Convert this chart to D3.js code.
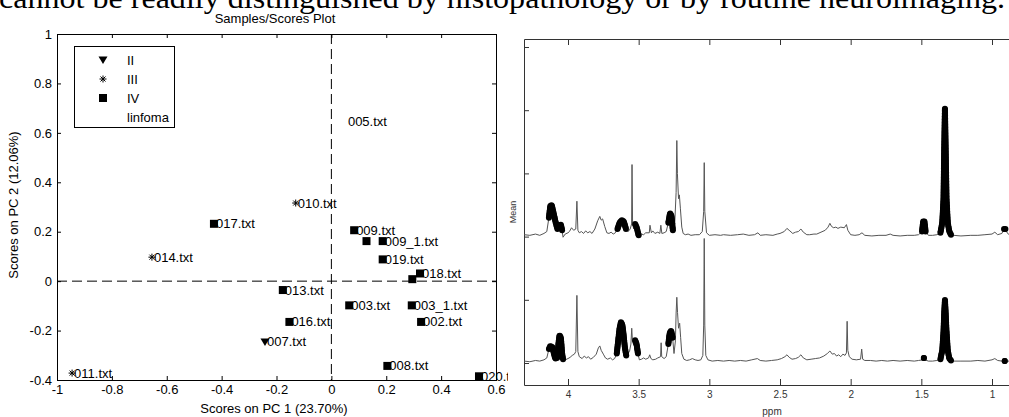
<!DOCTYPE html>
<html><head><meta charset="utf-8">
<script src="https://cdn.jsdelivr.net/npm/d3@7"></script>
<style>
html,body{margin:0;padding:0;background:#fff;overflow:hidden}
svg{display:block}
</style></head>
<body>
<svg id="c" width="1009" height="417"></svg>
<script>
// ---------- data: left scores plot ----------
const sampleLabels = ["005.txt","010.txt","017.txt","014.txt","011.txt","009.txt","","009_1.txt","019.txt","018.txt","","013.txt","003.txt","003_1.txt","002.txt","016.txt","007.txt","008.txt","020.txt"];
const pc1Scores = [0.053,-0.130,-0.428,-0.654,-0.945,0.083,0.128,0.187,0.187,0.323,0.295,-0.177,0.065,0.293,0.327,-0.153,-0.242,0.204,0.538];
const pc2Scores = [0.645,0.316,0.232,0.097,-0.372,0.206,0.162,0.162,0.088,0.031,0.008,-0.036,-0.098,-0.098,-0.165,-0.165,-0.246,-0.343,-0.385];
const sampleGroups = ["linfoma","III","IV","III","III","IV","IV","IV","IV","IV","IV","IV","IV","IV","IV","IV","II","IV","IV"];
const legendGroups = ["II","III","IV","linfoma"];
const xTickValues = [-1,-0.8,-0.6,-0.4,-0.2,0,0.2,0.4,0.6];
const xTickLabels = ["-1","-0.8","-0.6","-0.4","-0.2","0","0.2","0.4","0.6"];
const yTickValues = [-0.4,-0.2,0,0.2,0.4,0.6,0.8,1];
const yTickLabels = ["-0.4","-0.2","0","0.2","0.4","0.6","0.8","1"];

// ---------- data: right spectra (ppm, intensity) ----------
const ppmTickValues = [4,3.5,3,2.5,2,1.5,1];
const ppmTickLabels = ["4","3.5","3","2.5","2","1.5","1"];
const meanTickValues = [0,1,2,3,4,5];
const topSpectrum = [[4.31,2.03],[4.27,2.02],[4.23,2.04],[4.20,2.02],[4.17,2.05],[4.15,2.08],[4.135,2.30],[4.125,2.49],[4.115,2.50],[4.105,2.40],[4.09,2.25],[4.075,2.12],[4.062,2.18],[4.05,2.19],[4.042,2.10],[4.035,1.99],[4.02,2.04],[4.00,2.06],[3.99,2.08],[3.975,2.14],[3.96,2.10],[3.945,2.12],[3.937,2.56],[3.930,2.10],[3.92,2.06],[3.905,2.08],[3.89,2.05],[3.875,2.09],[3.86,2.06],[3.845,2.08],[3.83,2.05],[3.81,2.12],[3.79,2.25],[3.775,2.32],[3.765,2.26],[3.755,2.28],[3.74,2.16],[3.725,2.06],[3.71,2.05],[3.695,2.07],[3.68,2.04],[3.665,2.06],[3.65,2.12],[3.635,2.22],[3.62,2.26],[3.605,2.24],[3.59,2.12],[3.575,2.08],[3.56,2.12],[3.55,2.20],[3.547,3.14],[3.543,2.20],[3.535,2.12],[3.525,2.20],[3.515,2.15],[3.50,2.02],[3.48,2.04],[3.465,2.03],[3.45,2.06],[3.425,2.06],[3.42,2.18],[3.41,2.06],[3.40,2.09],[3.385,2.05],[3.365,2.07],[3.35,2.05],[3.343,2.18],[3.336,2.05],[3.32,2.06],[3.305,2.08],[3.29,2.22],[3.278,2.37],[3.268,2.33],[3.258,2.10],[3.245,2.20],[3.235,2.70],[3.230,3.52],[3.226,3.00],[3.218,2.60],[3.212,2.66],[3.205,2.45],[3.195,2.15],[3.185,2.05],[3.17,2.03],[3.15,2.04],[3.13,2.02],[3.10,2.03],[3.07,2.03],[3.05,2.08],[3.040,2.40],[3.036,3.17],[3.032,2.40],[3.02,2.06],[3.00,2.02],[2.96,2.03],[2.92,2.02],[2.90,2.03],[2.85,2.02],[2.80,2.03],[2.76,2.04],[2.72,2.02],[2.68,2.03],[2.656,2.06],[2.64,2.02],[2.60,2.03],[2.55,2.02],[2.52,2.04],[2.50,2.05],[2.47,2.08],[2.451,2.13],[2.43,2.09],[2.41,2.05],[2.39,2.07],[2.37,2.08],[2.352,2.12],[2.335,2.07],[2.31,2.03],[2.29,2.03],[2.26,2.04],[2.24,2.04],[2.21,2.07],[2.18,2.10],[2.16,2.15],[2.147,2.21],[2.135,2.16],[2.12,2.14],[2.105,2.15],[2.09,2.13],[2.07,2.15],[2.045,2.14],[2.030,2.19],[2.02,2.10],[2.00,2.03],[1.97,2.02],[1.94,2.03],[1.92,2.06],[1.90,2.02],[1.85,2.01],[1.80,2.02],[1.75,2.02],[1.72,2.04],[1.70,2.02],[1.65,2.01],[1.60,2.02],[1.55,2.02],[1.52,2.03],[1.495,2.08],[1.487,2.24],[1.478,2.24],[1.470,2.08],[1.45,2.02],[1.42,2.02],[1.39,2.03],[1.365,2.06],[1.352,2.22],[1.343,2.60],[1.338,3.40],[1.333,4.03],[1.328,3.40],[1.322,2.60],[1.313,2.22],[1.302,2.08],[1.29,2.03],[1.27,2.02],[1.22,2.01],[1.15,2.02],[1.10,2.02],[1.05,2.03],[1.00,2.04],[0.98,2.07],[0.96,2.03],[0.93,2.05],[0.915,2.12],[0.905,2.12],[0.89,2.05],[0.87,2.02]];
const topMarked = [[4.145,4.038],[3.655,3.59],[3.53,3.50],[3.295,3.258],[1.495,1.47],[1.365,1.29],[0.925,0.892]];
const bottomSpectrum = [[4.31,0.03],[4.27,0.02],[4.23,0.04],[4.20,0.03],[4.17,0.05],[4.15,0.08],[4.135,0.22],[4.125,0.27],[4.11,0.25],[4.10,0.15],[4.09,0.07],[4.075,0.08],[4.068,0.30],[4.06,0.44],[4.05,0.40],[4.042,0.15],[4.035,0.06],[4.02,0.05],[4.00,0.07],[3.985,0.09],[3.97,0.12],[3.955,0.14],[3.945,0.18],[3.937,1.07],[3.930,0.18],[3.92,0.10],[3.90,0.07],[3.885,0.11],[3.87,0.08],[3.855,0.10],[3.84,0.06],[3.82,0.09],[3.80,0.14],[3.785,0.24],[3.775,0.27],[3.765,0.20],[3.75,0.14],[3.735,0.08],[3.72,0.06],[3.70,0.08],[3.685,0.05],[3.67,0.07],[3.655,0.15],[3.645,0.35],[3.635,0.55],[3.625,0.65],[3.615,0.60],[3.607,0.45],[3.598,0.25],[3.588,0.12],[3.565,0.18],[3.555,0.30],[3.549,0.55],[3.544,0.35],[3.535,0.28],[3.525,0.36],[3.515,0.30],[3.505,0.15],[3.495,0.05],[3.48,0.06],[3.465,0.08],[3.45,0.06],[3.43,0.08],[3.422,0.13],[3.413,0.07],[3.40,0.05],[3.38,0.06],[3.365,0.08],[3.345,0.10],[3.341,0.32],[3.337,0.10],[3.32,0.07],[3.305,0.10],[3.29,0.30],[3.28,0.48],[3.27,0.51],[3.26,0.40],[3.25,0.15],[3.24,0.35],[3.235,0.79],[3.230,1.04],[3.225,0.80],[3.218,0.55],[3.21,0.63],[3.203,0.40],[3.195,0.15],[3.18,0.06],[3.16,0.04],[3.14,0.05],[3.12,0.07],[3.10,0.05],[3.08,0.04],[3.06,0.05],[3.046,0.12],[3.040,0.60],[3.036,1.97],[3.032,0.60],[3.025,0.12],[3.01,0.05],[2.98,0.03],[2.94,0.04],[2.90,0.03],[2.86,0.04],[2.82,0.03],[2.78,0.04],[2.74,0.03],[2.70,0.05],[2.66,0.07],[2.64,0.04],[2.60,0.03],[2.56,0.04],[2.52,0.05],[2.49,0.07],[2.465,0.10],[2.451,0.13],[2.435,0.09],[2.415,0.06],[2.39,0.07],[2.37,0.09],[2.352,0.13],[2.335,0.08],[2.31,0.05],[2.28,0.06],[2.25,0.07],[2.22,0.08],[2.19,0.11],[2.165,0.15],[2.147,0.19],[2.13,0.14],[2.115,0.15],[2.10,0.11],[2.085,0.13],[2.07,0.10],[2.055,0.14],[2.04,0.12],[2.030,0.16],[2.025,0.66],[2.020,0.20],[2.01,0.10],[1.99,0.06],[1.96,0.05],[1.93,0.06],[1.922,0.22],[1.915,0.06],[1.90,0.04],[1.86,0.04],[1.82,0.03],[1.78,0.04],[1.74,0.03],[1.70,0.04],[1.65,0.03],[1.60,0.04],[1.55,0.03],[1.52,0.04],[1.49,0.05],[1.482,0.08],[1.474,0.05],[1.45,0.03],[1.42,0.03],[1.39,0.04],[1.365,0.06],[1.352,0.20],[1.343,0.50],[1.338,0.80],[1.333,1.00],[1.328,0.80],[1.322,0.50],[1.313,0.20],[1.302,0.07],[1.29,0.04],[1.27,0.03],[1.22,0.03],[1.15,0.03],[1.10,0.04],[1.05,0.03],[1.00,0.05],[0.98,0.07],[0.96,0.04],[0.93,0.03],[0.91,0.03],[0.89,0.03],[0.87,0.03]];
const bottomMarked = [[4.145,4.035],[3.655,3.588],[3.53,3.498],[3.295,3.252],[1.486,1.478],[1.365,1.29],[0.915,0.905]];

const pageText = "cannot be readily distinguished by histopathology or by routine neuroimaging.";
const scoresTitle = "Samples/Scores Plot";
const scoresXLabel = "Scores on PC 1 (23.70%)";
const scoresYLabel = "Scores on PC 2 (12.06%)";

// ---------- drawing ----------
const svg = d3.select("#c");
const sans = "'Liberation Sans', Arial, Helvetica, sans-serif";

// page text, cut at the top
svg.append("text").attr("x", -1).attr("y", 8)
  .attr("font-family", "'Liberation Serif','Times New Roman',serif")
  .attr("font-size", 29).attr("textLength", 1006).attr("lengthAdjust", "spacingAndGlyphs")
  .attr("fill", "#000").text(pageText);

// ===== left panel =====
const xL = d3.scaleLinear().domain([-1, 0.6]).range([57, 496]);
const yL = d3.scaleLinear().domain([-0.4, 1]).range([380, 34]);
const L = svg.append("g");

L.append("rect").attr("x", xL(-1)).attr("y", yL(1)).attr("width", xL(0.6) - xL(-1))
  .attr("height", yL(-0.4) - yL(1)).attr("fill", "#fff");

function styleAxis(g) {
  g.select(".domain").remove();
  g.selectAll(".tick line").attr("stroke", "#000");
  g.selectAll(".tick text").attr("font-family", sans).attr("font-size", 13).attr("fill", "#000");
}
L.append("g").attr("transform", `translate(0,${yL(-0.4)})`)
  .call(d3.axisBottom(xL).tickValues(xTickValues).tickFormat((d, i) => xTickLabels[i]).tickSizeInner(-4).tickSizeOuter(0).tickPadding(5))
  .call(styleAxis);
L.append("g").attr("transform", `translate(0,${yL(1)})`)
  .call(d3.axisTop(xL).tickValues(xTickValues).tickFormat("").tickSizeInner(-4).tickSizeOuter(0))
  .call(styleAxis);
L.append("g").attr("transform", `translate(${xL(-1)},0)`)
  .call(d3.axisLeft(yL).tickValues(yTickValues).tickFormat((d, i) => yTickLabels[i]).tickSizeInner(-4).tickSizeOuter(0).tickPadding(5))
  .call(styleAxis);
L.append("g").attr("transform", `translate(${xL(0.6)},0)`)
  .call(d3.axisRight(yL).tickValues(yTickValues).tickFormat("").tickSizeInner(-4).tickSizeOuter(0))
  .call(styleAxis);

// dashed zero lines
L.append("line").attr("x1", xL(0)).attr("x2", xL(0)).attr("y1", yL(1)).attr("y2", yL(-0.4))
  .attr("stroke", "#000").attr("stroke-dasharray", "10,5");
L.append("line").attr("x1", xL(-1)).attr("x2", xL(0.6)).attr("y1", yL(0)).attr("y2", yL(0))
  .attr("stroke", "#000").attr("stroke-dasharray", "10,5");

L.append("rect").attr("x", xL(-1) + 0.5).attr("y", yL(1) + 0.5).attr("width", xL(0.6) - xL(-1))
  .attr("height", yL(-0.4) - yL(1)).attr("fill", "none").attr("stroke", "#000");

function drawMarker(g, group) {
  if (group === "II") {
    g.append("path").attr("d", "M-4.5,-3.5L4.5,-3.5L0,4Z").attr("fill", "#000");
  } else if (group === "III") {
    g.append("path").attr("d", "M-3.5,0H3.5M0,-3.5V3.5M-2.5,-2.5L2.5,2.5M-2.5,2.5L2.5,-2.5")
      .attr("stroke", "#000").attr("stroke-width", 1).attr("fill", "none");
  } else if (group === "IV") {
    g.append("rect").attr("x", -4).attr("y", -4).attr("width", 8).attr("height", 8).attr("fill", "#000");
  }
}

// labels then markers
const pts = pc1Scores.map((v, i) => ({x: v, y: pc2Scores[i], label: sampleLabels[i], group: sampleGroups[i]}));
L.selectAll("text.lab").data(pts).join("text").attr("class", "lab")
  .attr("x", d => xL(d.x) + 2).attr("y", d => yL(d.y)).attr("dy", "0.35em")
  .attr("font-family", sans).attr("font-size", 13).attr("fill", "#000").text(d => d.label);
pts.forEach(d => {
  const g = L.append("g").attr("transform", `translate(${xL(d.x)},${yL(d.y)})`);
  drawMarker(g, d.group);
});

// legend
const lg = L.append("g");
lg.append("rect").attr("x", 74.5).attr("y", 46.5).attr("width", 100).attr("height", 81)
  .attr("fill", "#fff").attr("stroke", "#000");
const legendY = d3.scalePoint().domain(legendGroups).range([60, 117]);
legendGroups.forEach(gname => {
  const g = lg.append("g").attr("transform", `translate(103,${legendY(gname)})`);
  drawMarker(g, gname);
  lg.append("text").attr("x", 127).attr("y", legendY(gname)).attr("dy", "0.35em")
    .attr("font-family", sans).attr("font-size", 13).attr("fill", "#000").text(gname);
});

// titles
svg.append("text").attr("x", 275).attr("y", 18).attr("dy", "0.35em").attr("text-anchor", "middle")
  .attr("font-family", sans).attr("font-size", 13).text(scoresTitle);
svg.append("text").attr("x", 274).attr("y", 408).attr("dy", "0.35em").attr("text-anchor", "middle")
  .attr("font-family", sans).attr("font-size", 13).text(scoresXLabel);
svg.append("text").attr("transform", "translate(13,205) rotate(-90)").attr("dy", "0.35em").attr("text-anchor", "middle")
  .attr("font-family", sans).attr("font-size", 13).text(scoresYLabel);

// ===== right panel =====
const R = svg.append("g");
R.append("rect").attr("x", 508).attr("y", 30).attr("width", 501).attr("height", 387).attr("fill", "#fff");
const xR = d3.scaleLinear().domain([4, 1]).range([568, 992]);
const yR = d3.scaleLinear().domain([0, 5]).range([363, 47]);
const rLeft = 524, rTop = 39, rBottom = 385, rRight = 1009;

svg.append("defs").append("clipPath").attr("id", "clipR").append("rect")
  .attr("x", rLeft).attr("y", rTop).attr("width", rRight - rLeft).attr("height", rBottom - rTop);

const axCol = "#333";
R.append("path").attr("d", `M${rRight},${rTop + 0.5}H${rLeft + 0.5}V${rBottom + 0.5}H${rRight}`)
  .attr("fill", "none").attr("stroke", axCol).attr("stroke-width", 1);

function styleAxisR(g) {
  g.select(".domain").remove();
  g.selectAll(".tick line").attr("stroke", axCol);
  g.selectAll(".tick text").attr("font-family", sans).attr("font-size", 10).attr("fill", "#333");
}
R.append("g").attr("transform", `translate(0,${rBottom})`)
  .call(d3.axisBottom(xR).tickValues(ppmTickValues).tickFormat((d, i) => ppmTickLabels[i]).tickSizeInner(-6).tickSizeOuter(0).tickPadding(6))
  .call(styleAxisR);
R.append("g").attr("transform", `translate(0,${rTop})`)
  .call(d3.axisTop(xR).tickValues(ppmTickValues).tickFormat("").tickSizeInner(-6).tickSizeOuter(0))
  .call(styleAxisR);
R.append("g").attr("transform", `translate(${rLeft},0)`)
  .call(d3.axisLeft(yR).tickValues(meanTickValues).tickFormat("").tickSizeInner(-5).tickSizeOuter(0))
  .call(styleAxisR);

R.append("text").attr("x", 772).attr("y", 411).attr("dy", "0.35em").attr("text-anchor", "middle")
  .attr("font-family", sans).attr("font-size", 10).attr("fill", "#333").text("ppm");
R.append("text").attr("transform", "translate(513,212) rotate(-90)").attr("dy", "0.35em").attr("text-anchor", "middle")
  .attr("font-family", sans).attr("font-size", 9).attr("fill", "#333").text("Mean");

const plot = R.append("g").attr("clip-path", "url(#clipR)");
const line = d3.line().x(d => xR(d[0])).y(d => yR(d[1]));

function drawSpectrum(data, marked) {
  plot.append("path").datum(data).attr("d", line).attr("fill", "none")
    .attr("stroke", "#555").attr("stroke-width", 1).attr("stroke-linejoin", "round");
  marked.forEach(([hi, lo]) => {
    const seg = data.filter(d => d[0] <= hi && d[0] >= lo);
    const p = plot.append("path").datum(seg).attr("d", line).attr("fill", "none").attr("stroke", "none");
    const node = p.node();
    const len = node.getTotalLength();
    const n = Math.max(1, Math.ceil(len / 1.5));
    const circles = d3.range(n + 1).map(k => node.getPointAtLength(len * k / n));
    plot.append("g").selectAll("circle").data(circles).join("circle")
      .attr("cx", d => d.x).attr("cy", d => d.y).attr("r", 3).attr("fill", "#000");
  });
}
drawSpectrum(topSpectrum, topMarked);
drawSpectrum(bottomSpectrum, bottomMarked);
</script>
</body></html>
